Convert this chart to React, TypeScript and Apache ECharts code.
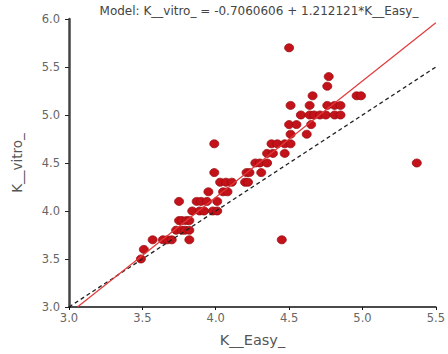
import React, { useEffect, useRef } from "react";
import * as echarts from "echarts";

const xVals = [
  3.49, 3.51,
  3.57, 3.64, 3.67, 3.70, 3.82, 4.45,
  3.73, 3.77, 3.79, 3.82,
  3.75, 3.77, 3.80, 3.82,
  3.84, 3.89, 3.92, 3.98, 4.01,
  3.75, 3.87, 3.90, 3.94, 4.01,
  3.95, 4.05, 4.08,
  4.03, 4.07, 4.11, 4.20, 4.22,
  3.99, 4.21, 4.23, 4.31,
  4.27, 4.30, 4.35, 5.37,
  4.35, 4.39, 4.47,
  3.99, 4.38, 4.42, 4.47, 4.51,
  4.51, 4.62,
  4.50, 4.55, 4.65,
  4.58, 4.64, 4.67, 4.71, 4.75, 4.81, 4.85,
  4.51, 4.64, 4.76, 4.81, 4.85,
  4.66, 4.96, 4.99,
  4.76,
  4.77,
  4.50,
];
const yVals = [
  3.5, 3.6,
  3.7, 3.7, 3.7, 3.7, 3.7, 3.7,
  3.8, 3.8, 3.8, 3.8,
  3.9, 3.9, 3.9, 3.9,
  4.0, 4.0, 4.0, 4.0, 4.0,
  4.1, 4.1, 4.1, 4.1, 4.1,
  4.2, 4.2, 4.2,
  4.3, 4.3, 4.3, 4.3, 4.3,
  4.4, 4.4, 4.4, 4.4,
  4.5, 4.5, 4.5, 4.5,
  4.6, 4.6, 4.6,
  4.7, 4.7, 4.7, 4.7, 4.7,
  4.8, 4.8,
  4.9, 4.9, 4.9,
  5.0, 5.0, 5.0, 5.0, 5.0, 5.0, 5.0,
  5.1, 5.1, 5.1, 5.1, 5.1,
  5.2, 5.2, 5.2,
  5.3,
  5.4,
  5.7,
];

const intercept = -0.7060606;
const slope = 1.212121;
const xTicks = [3.0, 3.5, 4.0, 4.5, 5.0, 5.5];
const yTicks = [3.0, 3.5, 4.0, 4.5, 5.0, 5.5, 6.0];
const titleText = "Model: K__vitro_ = -0.7060606 + 1.212121*K__Easy_";
const xName = "K__Easy_";
const yName = "K__vitro_";

export default function App() {
  const ref = useRef<HTMLDivElement>(null);
  useEffect(() => {
    if (!ref.current) return;
    const chart = echarts.init(ref.current, undefined, { renderer: "svg" });
    const xMin = xTicks[0];
    const xMax = xTicks[xTicks.length - 1];
    const yMin = yTicks[0];
    const yMax = yTicks[yTicks.length - 1];
    const fitStartX = (yMin - intercept) / slope;
    const fitLine = [
      [fitStartX, intercept + slope * fitStartX],
      [xMax, intercept + slope * xMax],
    ];
    const identity = [
      [xMin, xMin],
      [xMax, xMax],
    ];
    const font = "DejaVu Sans, Verdana, sans-serif";
    chart.setOption({
      animation: false,
      backgroundColor: "#fff",
      title: {
        text: titleText,
        left: 254,
        textAlign: "center",
        top: 0,
        textStyle: { fontSize: 12, fontWeight: "normal", color: "#444", fontFamily: font },
      },
      grid: { left: 69, right: 11, top: 19, bottom: 47 },
      xAxis: {
        type: "value",
        min: xMin,
        max: xMax,
        interval: 0.5,
        name: xName,
        nameLocation: "middle",
        nameGap: 25,
        nameTextStyle: { fontSize: 14.5, color: "#555", fontFamily: font },
        splitLine: { show: false },
        axisLine: { show: true, onZero: false, lineStyle: { color: "#111", width: 1.5 } },
        axisTick: { show: true, length: 3, lineStyle: { color: "#111" } },
        axisLabel: {
          fontSize: 11.5,
          color: "#666",
          fontFamily: font,
          margin: 5,
          formatter: (v: number) => v.toFixed(1),
        },
      },
      yAxis: {
        type: "value",
        min: yMin,
        max: yMax,
        interval: 0.5,
        name: yName,
        nameLocation: "middle",
        nameGap: 45,
        nameTextStyle: { fontSize: 13.5, color: "#555", fontFamily: font },
        splitLine: { show: false },
        axisLine: { show: true, onZero: false, lineStyle: { color: "#444", width: 2.5 } },
        axisTick: { show: true, length: 4, lineStyle: { color: "#222" } },
        axisLabel: {
          fontSize: 11.5,
          color: "#666",
          fontFamily: font,
          margin: 9,
          formatter: (v: number) => v.toFixed(1),
        },
      },
      series: [
        {
          type: "scatter",
          data: xVals.map((x, i) => [x, yVals[i]]),
          symbol: "circle",
          symbolSize: [9, 8],
          itemStyle: { color: "#c4121a", borderColor: "#9a0c10", borderWidth: 0.8, opacity: 1 },
          z: 2,
        },
        {
          type: "line",
          data: identity,
          showSymbol: false,
          symbol: "none",
          lineStyle: { color: "#222", width: 1.3, type: [4, 3] },
          z: 3,
        },
        {
          type: "line",
          data: fitLine,
          showSymbol: false,
          symbol: "none",
          lineStyle: { color: "#e23a3a", width: 1.2 },
          z: 4,
        },
      ],
    });
    return () => chart.dispose();
  }, []);
  return <div ref={ref} style={{ width: 448, height: 354, position: "absolute", left: 0, top: 0 }} />;
}
